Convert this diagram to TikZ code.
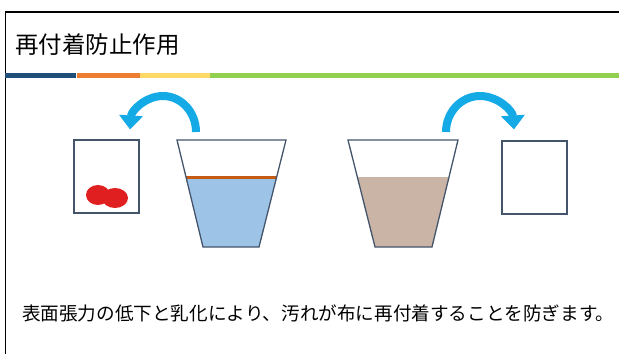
\documentclass[tikz,border=0pt]{standalone}
\usepackage{fontspec}
\newfontfamily\jpfont{Noto Sans CJK JP}
\usetikzlibrary{arrows.meta}
\usetikzlibrary{calc}
\usetikzlibrary{positioning}

\definecolor{slidenavy}{RGB}{31,78,121}
\definecolor{slideorange}{RGB}{237,125,49}
\definecolor{slideyellow}{RGB}{255,217,102}
\definecolor{slidegreen}{RGB}{146,208,80}
\definecolor{cupline}{RGB}{68,84,106}
\definecolor{turnblue}{RGB}{20,170,230}
\definecolor{waterblue}{RGB}{157,195,230}
\definecolor{scumline}{RGB}{197,90,17}
\definecolor{dirtywater}{RGB}{201,180,166}
\definecolor{stainred}{RGB}{224,32,32}

\tikzset{
    barpart/.style={
        rectangle, anchor=west, inner sep=0pt,
        minimum height=5pt,
    },
    cloth/.style={
        rectangle, inner sep=0pt,
        minimum width=65pt, minimum height=73pt,
        draw=cupline, line width=1.3pt,
    },
    cup/.style={draw=cupline, line width=1.3pt, line join=miter},
    turn/.style={
        turnblue, line width=8pt,
        -{Triangle[length=14pt, width=23pt]},
    },
}

\begin{document}
\begin{tikzpicture}[x=1pt, y=1pt]
        \useasboundingbox (0,0) rectangle (619,354);

        % slide frame
        \draw[black, line width=1.5pt] (5.5,0) -- (5.5,342) -- (619,342);

        \node (title) at(15,309) [
            anchor=west, inner sep=0pt,
            font=\jpfont\fontsize{23.5}{28}\selectfont,
        ] {再付着防止作用};

        % coloured rule under the title
        \node (barnavy) at(5,278.5) [barpart, minimum width=71pt, fill=slidenavy] {};
        \node (barorange) at(barnavy.east) [barpart, minimum width=63pt, fill=slideorange] {};
        \node (baryellow) at(barorange.east) [barpart, minimum width=70pt, fill=slideyellow] {};
        \node (bargreen) at(baryellow.east) [barpart, minimum width=410pt, fill=slidegreen] {};

        % left: clean water, stain floats off the cloth
        \node (clothL) at(106.5,177.5) [cloth] {};
        \fill[stainred] (98,159) ellipse (12 and 10);
        \fill[stainred] (115,156) ellipse (13 and 10);

        \coordinate (cupLtl) at(177,214);
        \coordinate (cupLtr) at(286,214);
        \coordinate (cupLbl) at(203,107);
        \coordinate (cupLbr) at(259,107);
        \fill[waterblue] ($(cupLtl)!0.355!(cupLbl)$) -- (cupLbl) -- (cupLbr)
            -- ($(cupLtr)!0.355!(cupLbr)$) -- cycle;
        \draw[scumline, line width=3pt]
            ($(cupLtl)!0.355!(cupLbl)$) -- ($(cupLtr)!0.355!(cupLbr)$);
        \draw[cup] (cupLtl) -- (cupLbl) -- (cupLbr) -- (cupLtr) -- cycle;

        \coordinate (liftL) at(196,222);
        \draw[turn] (liftL) arc[start angle=0, end angle=176, x radius=33, y radius=36];

        % right: dirty water, cloth stays clean
        \coordinate (cupRtl) at(348,214);
        \coordinate (cupRtr) at(458,214);
        \coordinate (cupRbl) at(375,107);
        \coordinate (cupRbr) at(432,107);
        \fill[dirtywater] ($(cupRtl)!0.346!(cupRbl)$) -- (cupRbl) -- (cupRbr)
            -- ($(cupRtr)!0.346!(cupRbr)$) -- cycle;
        \draw[cup] (cupRtl) -- (cupRbl) -- (cupRbr) -- (cupRtr) -- cycle;

        \node (clothR) at(534.5,176.5) [cloth] {};

        \coordinate (liftR) at(446,222);
        \draw[turn] (liftR) arc[start angle=180, end angle=4, x radius=34, y radius=36];

        \node (caption) at(22,41) [
            anchor=west, inner sep=0pt,
            font=\jpfont\fontsize{18.6}{22}\selectfont,
        ] {表面張力の低下と乳化により、汚れが布に再付着することを防ぎます。};
\end{tikzpicture}
\end{document}
